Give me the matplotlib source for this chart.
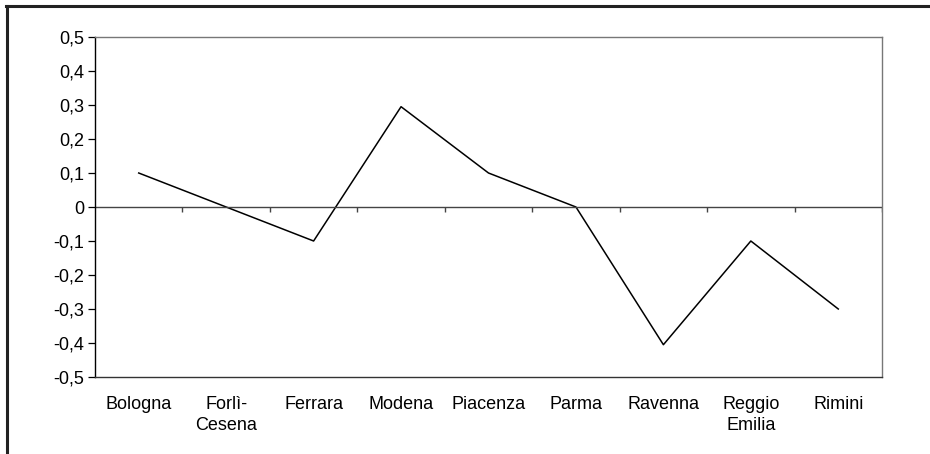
import matplotlib
matplotlib.use("Agg")
import matplotlib.pyplot as plt
from matplotlib.lines import Line2D
from matplotlib.ticker import FuncFormatter

plt.rcParams['font.family'] = ['Liberation Sans', 'DejaVu Sans']

categories = ["Bologna", "Forlì-\nCesena", "Ferrara", "Modena", "Piacenza",
              "Parma", "Ravenna", "Reggio\nEmilia", "Rimini"]
values = [0.10, 0.0, -0.10, 0.295, 0.10, 0.0, -0.405, -0.10, -0.30]
yticks = [-0.5, -0.4, -0.3, -0.2, -0.1, 0.0, 0.1, 0.2, 0.3, 0.4, 0.5]

W, H = 930, 454
fig = plt.figure(figsize=(W / 100, H / 100), dpi=100)
ax = fig.add_axes([95 / W, 1 - 377 / H, (882 - 95) / W, (377 - 37) / H])

x = list(range(len(categories)))
ax.plot(x, values, color='black', lw=1.1)

ax.set_xlim(-0.5, len(categories) - 0.5)
ax.set_ylim(-0.5, 0.5)
ax.set_yticks(yticks)

def fmt(v, pos):
    s = "%.1f" % v
    if s in ("0.0", "-0.0"):
        return "0"
    return s.replace(".", ",")

ax.yaxis.set_major_formatter(FuncFormatter(fmt))
ax.tick_params(axis='y', direction='out', length=5, width=0.9, labelsize=13, pad=3, colors='black')

ax.set_xticks(x)
ax.set_xticklabels(categories, fontsize=13, linespacing=1.3, va='top')
ax.tick_params(axis='x', length=0, pad=14)

for s in ['top', 'right']:
    ax.spines[s].set_color('#777777')
    ax.spines[s].set_linewidth(1.0)
ax.spines['left'].set_color('black')
ax.spines['left'].set_linewidth(1.0)
ax.spines['bottom'].set_color('#333333')
ax.spines['bottom'].set_linewidth(1.0)

# zero axis line with category boundary ticks
ax.axhline(0, color='#444444', lw=1.0)
tick_len = 5 / 340
bounds = [i + 0.5 for i in range(len(categories))]
ax.vlines(bounds, -tick_len, 0, color='#444444', lw=1.0)

# outer frame (top and left)
fig.add_artist(Line2D([6 / W, 1], [1 - 6 / H, 1 - 6 / H], color='#222222', lw=2.2, transform=fig.transFigure))
fig.add_artist(Line2D([7 / W, 7 / W], [0, 1 - 6 / H], color='#222222', lw=2.2, transform=fig.transFigure))

fig.savefig("out.png", dpi=100)
